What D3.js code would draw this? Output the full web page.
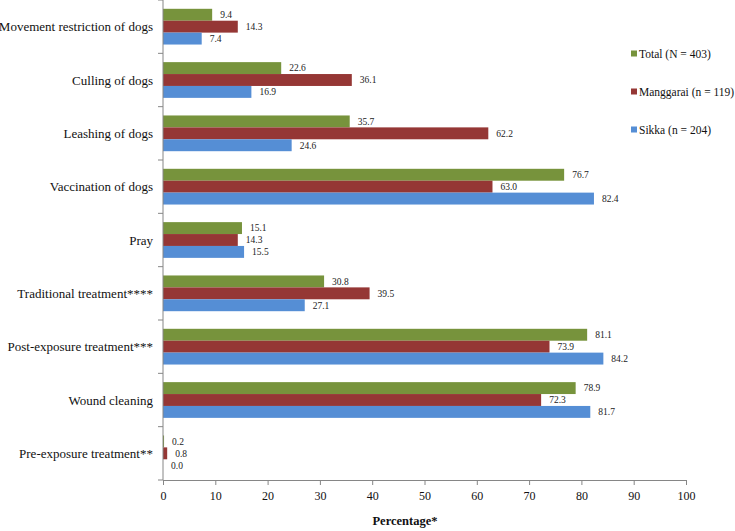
<!DOCTYPE html>
<html>
<head>
<meta charset="utf-8">
<script src="https://cdn.jsdelivr.net/npm/d3@7"></script>
<style>
  html, body { margin: 0; padding: 0; background: #fff; }
</style>
</head>
<body>
<svg id="chart" width="735" height="531"></svg>
<script>
const categories = [
  "Movement restriction of dogs",
  "Culling of dogs",
  "Leashing of dogs",
  "Vaccination of dogs",
  "Pray",
  "Traditional treatment****",
  "Post-exposure treatment***",
  "Wound cleaning",
  "Pre-exposure treatment**"
];
const seriesNames = ["Total (N = 403)", "Manggarai (n = 119)", "Sikka (n = 204)"];
const seriesColors = ["#77933C", "#953735", "#558ED5"];
const totalValues     = [9.4, 22.6, 35.7, 76.7, 15.1, 30.8, 81.1, 78.9, 0.2];
const manggaraiValues = [14.3, 36.1, 62.2, 63.0, 14.3, 39.5, 73.9, 72.3, 0.8];
const sikkaValues     = [7.4, 16.9, 24.6, 82.4, 15.5, 27.1, 84.2, 81.7, 0.0];
const xTicks = [0, 10, 20, 30, 40, 50, 60, 70, 80, 90, 100];
const xTitle = "Percentage*";

const seriesValues = [totalValues, manggaraiValues, sikkaValues];
const FONT = '"Liberation Serif"';

const svg = d3.select("#chart");
const plot = { left: 163, right: 686, top: 0, bottom: 480 };

const x = d3.scaleLinear().domain([0, 100]).range([plot.left, plot.right]);
const y = d3.scaleBand().domain(categories).range([plot.top, plot.bottom]).paddingInner(0.33).paddingOuter(0.165);
const ySub = d3.scaleBand().domain(d3.range(seriesNames.length)).range([0, y.bandwidth()]);

// bars
const groups = svg.append("g").selectAll("g")
  .data(categories)
  .join("g")
  .attr("transform", d => `translate(0,${y(d)})`);

groups.each(function(cat, i) {
  const g = d3.select(this);
  seriesValues.forEach((vals, s) => {
    const v = vals[i];
    g.append("rect")
      .attr("x", x(0))
      .attr("y", ySub(s))
      .attr("width", Math.max(0, x(v) - x(0)))
      .attr("height", ySub.bandwidth())
      .attr("fill", seriesColors[s]);
    g.append("text")
      .attr("x", x(v) + 8)
      .attr("y", ySub(s) + ySub.bandwidth() / 2)
      .attr("dy", "0.35em")
      .style("font-family", FONT)
      .style("font-size", "9.5px")
      .attr("fill", "#222")
      .text(v.toFixed(1));
  });
});

// y axis line and ticks at band boundaries
const axisColor = "#868686";
svg.append("line")
  .attr("x1", plot.left).attr("x2", plot.left)
  .attr("y1", plot.top).attr("y2", plot.bottom)
  .attr("stroke", axisColor).attr("stroke-width", 1);
const step = (plot.bottom - plot.top) / categories.length;
svg.append("g").selectAll("line")
  .data(d3.range(categories.length + 1))
  .join("line")
  .attr("x1", plot.left - 5).attr("x2", plot.left)
  .attr("y1", d => plot.top + d * step).attr("y2", d => plot.top + d * step)
  .attr("stroke", axisColor);

// category labels
svg.append("g").selectAll("text")
  .data(categories)
  .join("text")
  .attr("x", 153)
  .attr("y", d => y(d) + y.bandwidth() / 2)
  .attr("dy", "0.35em")
  .attr("text-anchor", "end")
  .style("font-family", FONT)
  .style("font-size", "13px")
  .attr("fill", "#111")
  .text(d => d);

// x axis
const xAxis = d3.axisBottom(x).tickValues(xTicks).tickSize(5).tickPadding(6).tickFormat(d3.format("d"));
const gx = svg.append("g")
  .attr("transform", `translate(0,${plot.bottom})`)
  .call(xAxis);
gx.select(".domain").attr("stroke", axisColor);
gx.selectAll(".tick line").attr("stroke", axisColor);
gx.selectAll(".tick text")
  .style("font-family", FONT)
  .style("font-size", "12px")
  .attr("fill", "#111");

svg.append("text")
  .attr("x", 405)
  .attr("y", 525)
  .attr("text-anchor", "middle")
  .style("font-family", FONT)
  .style("font-size", "12.5px")
  .style("font-weight", "bold")
  .attr("fill", "#111")
  .text(xTitle);

// legend
const legend = svg.append("g").selectAll("g")
  .data(seriesNames)
  .join("g")
  .attr("transform", (d, i) => `translate(631,${54 + i * 38})`);
legend.append("rect")
  .attr("x", 0).attr("y", -3.5)
  .attr("width", 6).attr("height", 6)
  .attr("fill", (d, i) => seriesColors[i]);
legend.append("text")
  .attr("x", 8).attr("y", 0)
  .attr("dy", "0.35em")
  .style("font-family", FONT)
  .style("font-size", "11.5px")
  .attr("fill", "#111")
  .text(d => d);
</script>
</body>
</html>
